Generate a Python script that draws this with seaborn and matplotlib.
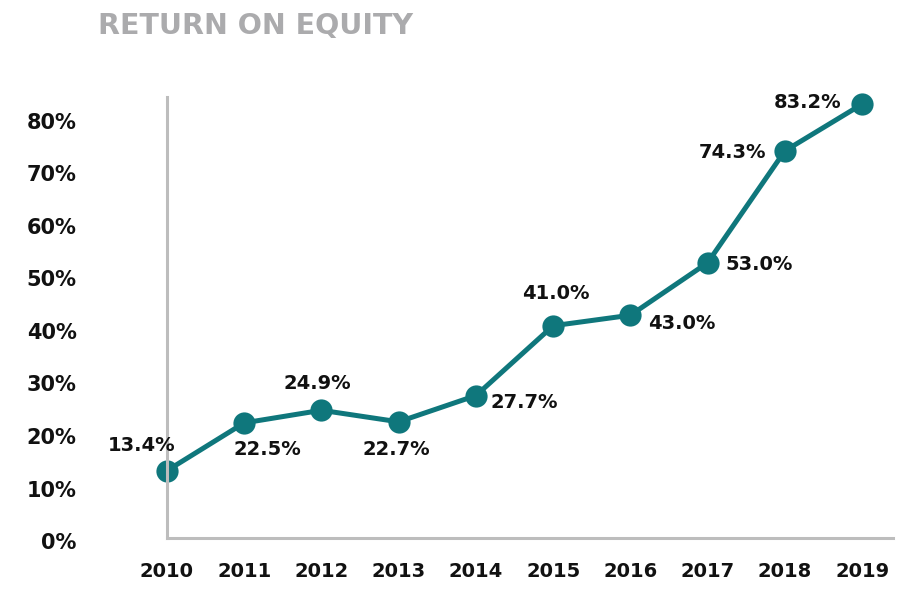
import matplotlib
matplotlib.use('Agg')
import matplotlib.pyplot as plt
import seaborn as sns
import pandas as pd

# данные
years = [2010, 2011, 2012, 2013, 2014, 2015, 2016, 2017, 2018, 2019]
roe = [13.4, 22.5, 24.9, 22.7, 27.7, 41.0, 43.0, 53.0, 74.3, 83.2]
y_ticks = [0, 10, 20, 30, 40, 50, 60, 70, 80]
y_tick_labels = ['0%', '10%', '20%', '30%', '40%', '50%', '60%', '70%', '80%']
title = 'RETURN ON EQUITY'

# сдвиги подписей (в пунктах)
label_offsets = [(-18, 18), (17, -19), (-3, 19), (-2, -20), (35, -5),
                 (2, 23), (37, -6), (37, -1), (-38, -1), (-39, 1)]

teal = '#0f777c'
grey_axis = '#bdbdbd'

sns.set_theme(style='white')
plt.rcParams['font.family'] = ['DejaVu Sans']

df = pd.DataFrame({'year': years, 'roe': roe})

fig = plt.figure(figsize=(9.23, 6.06), dpi=100)
ax = fig.add_axes([0.1809, 0.099, 0.7866, 0.741])

sns.lineplot(data=df, x='year', y='roe', ax=ax, color=teal, linewidth=3.6,
             marker='o', markersize=16, markeredgewidth=0, clip_on=False)

for x, y, (dx, dy) in zip(years, roe, label_offsets):
    ax.annotate(f'{y:.1f}%', (x, y), xytext=(dx, dy), textcoords='offset points',
                ha='center', va='center', fontsize=14, fontweight='bold',
                color='#111111')

# оси (сначала позиция осей, потом подписи — иначе сбрасываются)
for s in ['top', 'right']:
    ax.spines[s].set_visible(False)
ax.spines['bottom'].set_position(('data', 0.57))
ax.spines['left'].set_bounds(0.57, 84.57)
for s in ['bottom', 'left']:
    ax.spines[s].set_color(grey_axis)
    ax.spines[s].set_linewidth(2.2)

ax.set_xlim(2010, 2019.4)
ax.set_ylim(-0.95, 84.57)
ax.set_xticks(years)
ax.set_xticklabels([str(y) for y in years], fontsize=14, fontweight='bold',
                   color='#111111')
ax.set_yticks(y_ticks)
ax.set_yticklabels(y_tick_labels, fontsize=15, fontweight='bold', color='#111111')
ax.tick_params(axis='x', length=0, pad=17)
ax.tick_params(axis='y', length=0, pad=65)

ax.set_xlabel('')
ax.set_ylabel('')
ax.grid(False)

fig.text(98 / 923, 1 - 26 / 606, title, ha='left', va='center', fontsize=20.5,
         fontweight='bold', color='#ababad')

fig.savefig('out.png', dpi=100)
